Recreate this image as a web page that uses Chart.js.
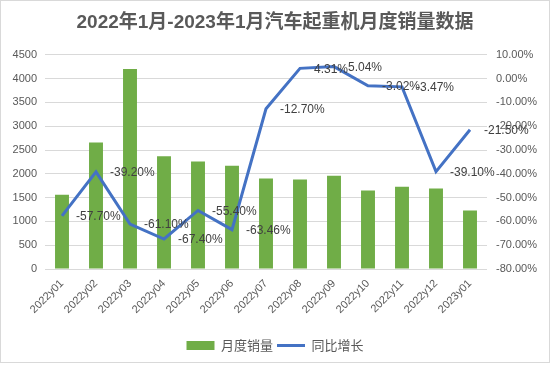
<!DOCTYPE html>
<html>
<head>
<meta charset="utf-8">
<script src="https://cdn.jsdelivr.net/npm/chart.js@4"></script>
<style>
  html, body { margin: 0; padding: 0; background: #fff; }
  #wrap { width: 550px; height: 365px; }
</style>
</head>
<body>
<div id="wrap"><canvas id="crane"></canvas></div>
<script>
const months = ['2022y01', '2022y02', '2022y03', '2022y04', '2022y05', '2022y06', '2022y07',
  '2022y08', '2022y09', '2022y10', '2022y11', '2022y12', '2023y01']
const sales = [1560, 2660, 4200, 2370, 2260, 2170, 1900, 1880, 1960, 1650, 1730, 1690, 1230]
const growth = [-57.70, -39.20, -61.10, -67.40, -55.40, -63.46, -12.70, 4.31, 5.04, -3.02, -3.47, -39.10, -21.50]

const crane = document.getElementById("crane")
const grey = '#595959'
const latin = '"Liberation Sans", "Noto Sans CJK SC", sans-serif'

// draws the percent labels next to the line points
const pctLabels = {
  id: 'pctLabels',
  afterDatasetsDraw(chart) {
    const ctx = chart.ctx
    const meta = chart.getDatasetMeta(1)
    ctx.save()
    ctx.font = '12px ' + latin
    ctx.fillStyle = '#404040'
    ctx.textAlign = 'left'
    ctx.textBaseline = 'middle'
    meta.data.forEach((pt, i) => {
      ctx.fillText(growth[i].toFixed(2) + '%', pt.x + 14, pt.y + 1)
    })
    ctx.restore()
  }
}

const frame = {
  id: 'frame',
  afterDraw(chart) {
    const ctx = chart.ctx
    ctx.save()
    ctx.strokeStyle = '#d9d9d9'
    ctx.lineWidth = 1
    ctx.strokeRect(0.5, 0.5, chart.width - 1, chart.height - 3)
    ctx.restore()
  }
}

new Chart(crane, {
  type: 'bar',
  data: {
    labels: months,
    datasets: [
      {
        label: '月度销量',
        data: sales,
        backgroundColor: '#70ad47',
        borderWidth: 0,
        categoryPercentage: 1,
        barPercentage: 0.41,
        yAxisID: 'y',
        order: 2
      },
      {
        label: '同比增长',
        type: 'line',
        data: growth,
        borderColor: '#4472c4',
        backgroundColor: '#4472c4',
        borderWidth: 3,
        pointRadius: 0,
        tension: 0,
        yAxisID: 'y1',
        order: 1
      }
    ]
  },
  options: {
    responsive: true,
    maintainAspectRatio: false,
    animation: false,
    layout: { padding: { left: 0, right: 0, top: 0, bottom: 3 } },
    plugins: {
      title: {
        display: true,
        text: '2022年1月-2023年1月汽车起重机月度销量数据',
        color: grey,
        font: { size: 19, weight: 'bold', family: latin },
        padding: { top: 11, bottom: 21 }
      },
      legend: {
        position: 'bottom',
        labels: {
          color: grey,
          font: { size: 13, family: '"Noto Sans CJK SC", sans-serif' },
          usePointStyle: true,
          pointStyleWidth: 28,
          boxHeight: 9,
          padding: 4,
          generateLabels(chart) {
            const items = Chart.defaults.plugins.legend.labels.generateLabels(chart)
            items.sort((a, b) => a.datasetIndex - b.datasetIndex)
            items[0].pointStyle = 'rect'
            items[0].lineWidth = 0
            items[1].pointStyle = 'line'
            items[1].lineWidth = 3
            items[1].strokeStyle = '#4472c4'
            return items
          }
        }
      },
      tooltip: { enabled: false }
    },
    scales: {
      x: {
        grid: { display: false },
        border: { display: false },
        ticks: {
          color: grey,
          font: { size: 11, family: latin },
          maxRotation: 45,
          minRotation: 45,
          padding: 0
        },
        afterFit(scale) { scale.height = 66 }
      },
      y: {
        position: 'left',
        min: 0,
        max: 4500,
        ticks: {
          stepSize: 500,
          color: grey,
          font: { size: 11, family: latin },
          padding: 8,
          callback: v => String(v)
        },
        grid: { color: '#d9d9d9', drawTicks: false },
        border: { display: false },
        afterFit(scale) { scale.width = 45 }
      },
      y1: {
        position: 'right',
        min: -80,
        max: 10,
        ticks: {
          stepSize: 10,
          color: grey,
          font: { size: 11, family: latin },
          padding: 9,
          callback: v => v.toFixed(2) + '%'
        },
        grid: { display: false, drawTicks: false },
        border: { display: false },
        afterFit(scale) { scale.width = 63 }
      }
    }
  },
  plugins: [pctLabels, frame]
})
</script>
</body>
</html>
